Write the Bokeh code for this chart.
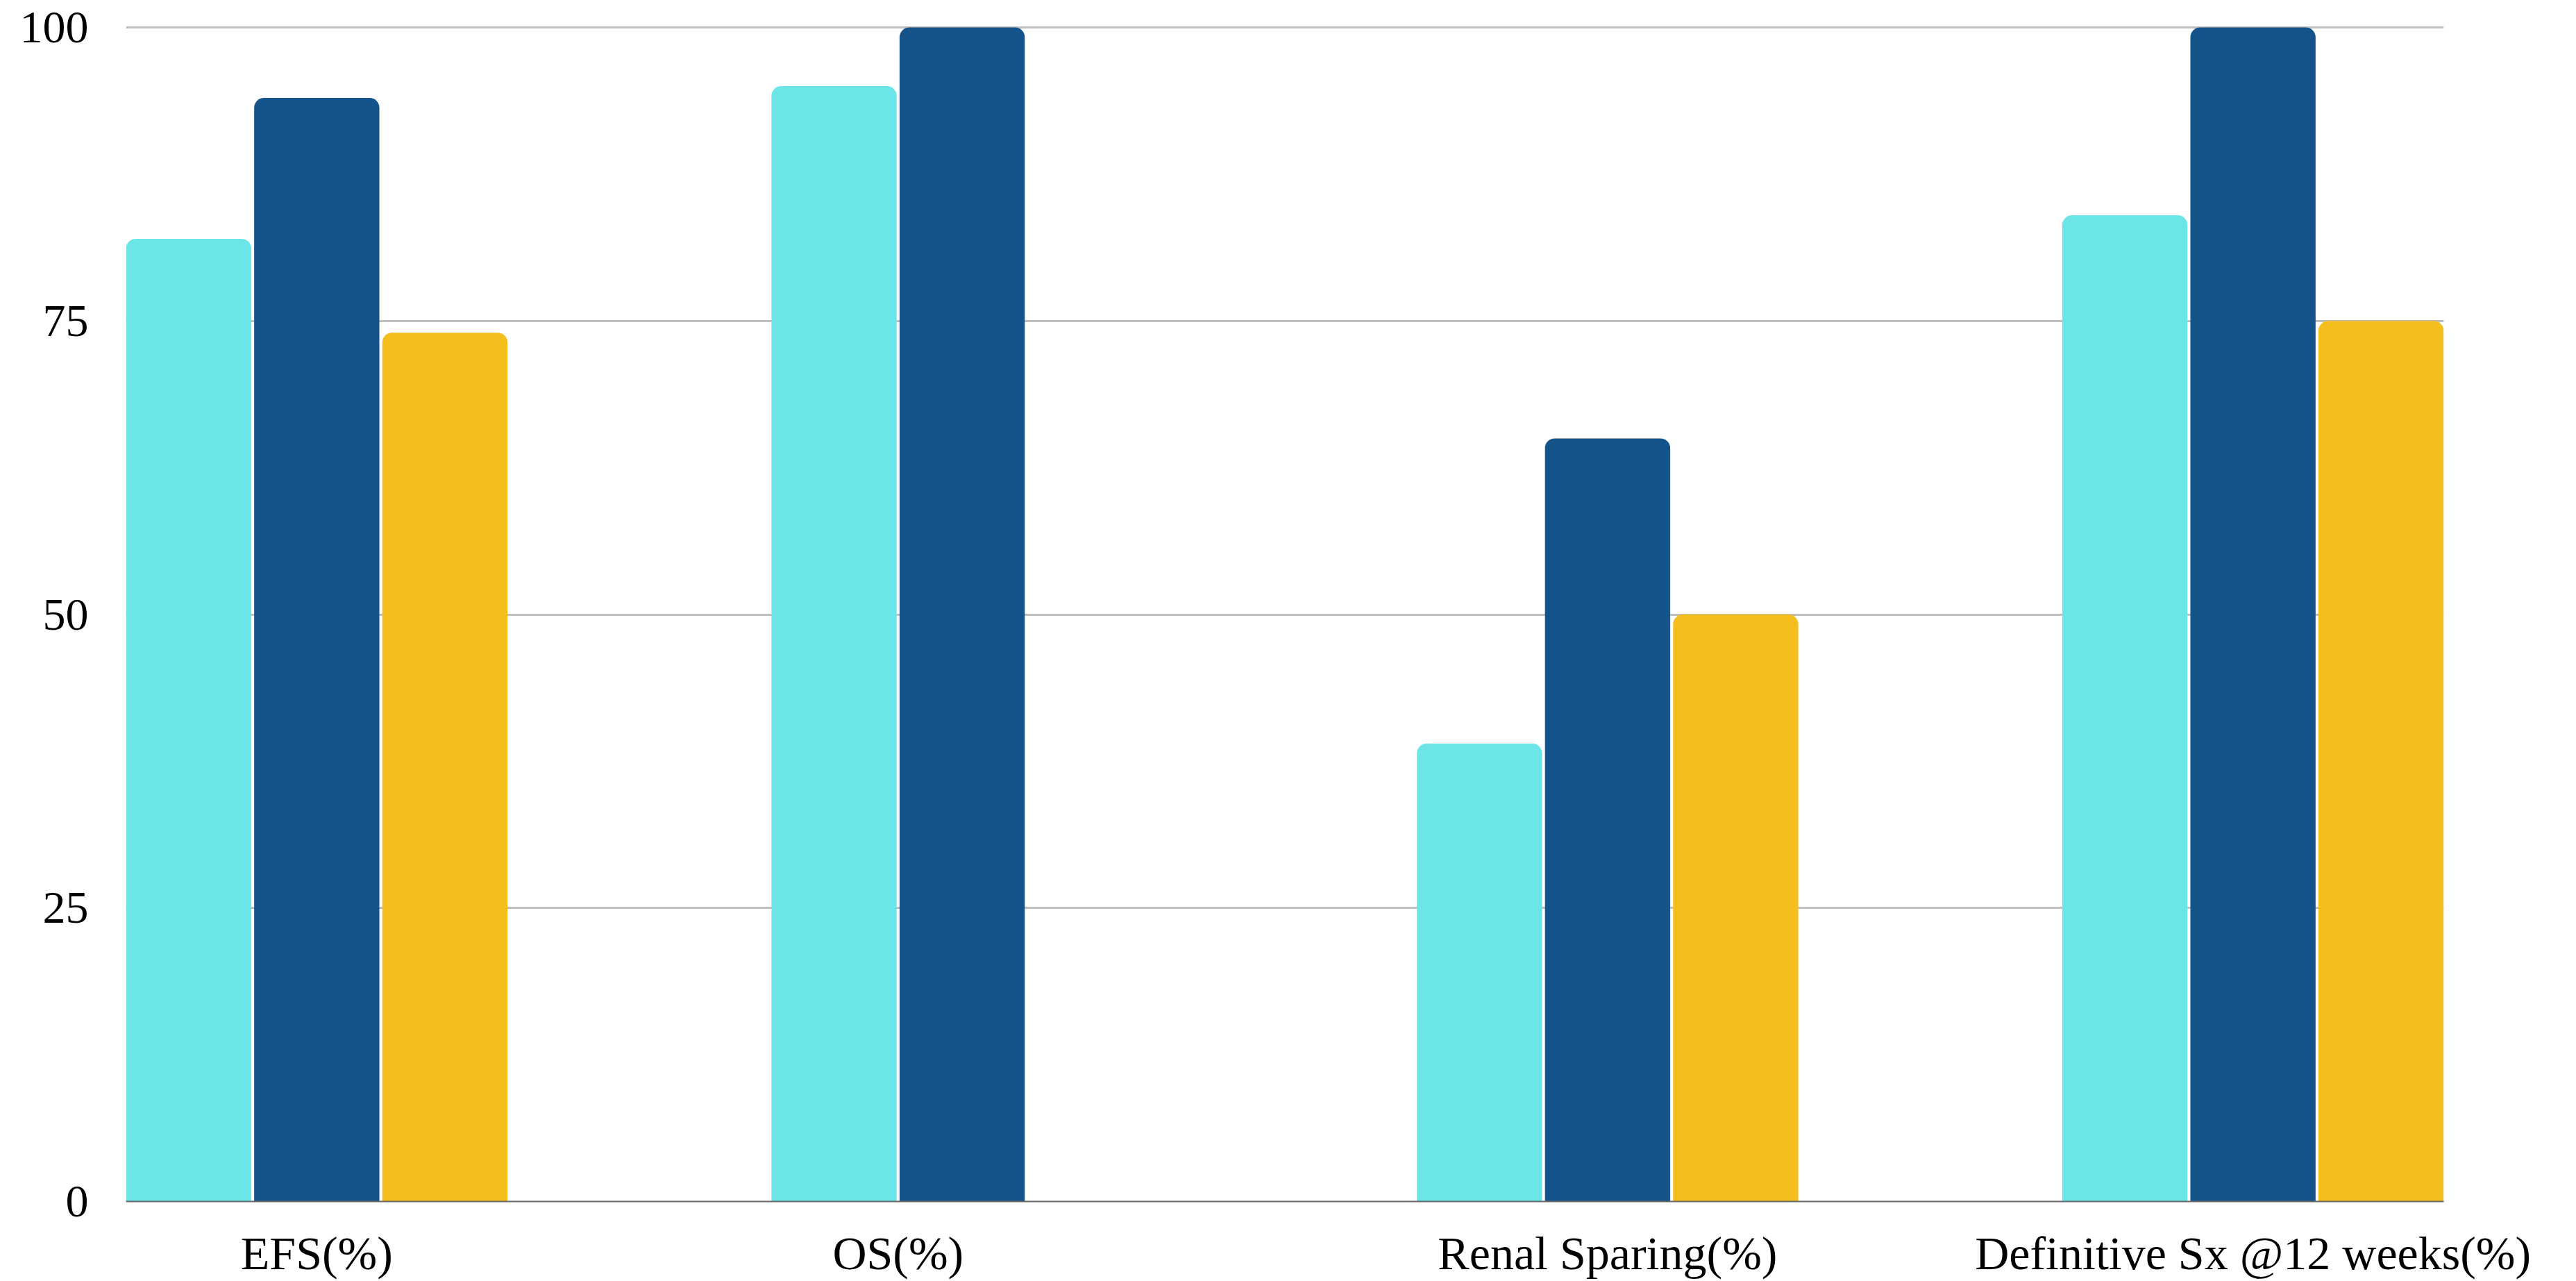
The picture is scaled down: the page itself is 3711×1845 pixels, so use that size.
from bokeh.plotting import figure
from bokeh.models import ColumnDataSource, FixedTicker, CustomJSTickFormatter, Range1d
from bokeh.transform import dodge
from bokeh.embed import file_html
from bokeh.resources import INLINE

categories = ["EFS(%)", "OS(%)", "Renal Sparing(%)", "Definitive Sx @12 weeks(%)"]
series_a = [82, 95, 39, 84]      # cyan
series_b = [94, 100, 65, 100]    # navy
series_c = [74, None, 50, 75]    # yellow
y_ticks = [0, 25, 50, 75, 100]

colors = ["#6CE5E8", "#15548A", "#F4BE1D"]
step = 0.1985
bar_w = 0.194
offsets = [-step, 0.0, step]
half_group = step + bar_w / 2 + 0.0001

xs = list(range(len(categories)))
src = ColumnDataSource(dict(
    x=xs,
    a=[v if v is not None else float("nan") for v in series_a],
    b=[v if v is not None else float("nan") for v in series_b],
    c=[v if v is not None else float("nan") for v in series_c],
))

p = figure(width=3711, height=1845, output_backend="svg", toolbar_location=None,
           x_range=Range1d(-half_group, len(categories) - 1 + half_group),
           y_range=Range1d(0, 100.3),
           min_border_left=181, min_border_right=191, min_border_top=34, min_border_bottom=111)

p.outline_line_color = None
p.background_fill_color = "white"
p.border_fill_color = "white"

p.ygrid.ticker = FixedTicker(ticks=y_ticks[1:])
p.ygrid.grid_line_color = "#BFBFBF"
p.ygrid.grid_line_width = 3
p.xgrid.grid_line_color = None

for col, off, color in zip(["a", "b", "c"], offsets, colors):
    p.vbar(x=dodge("x", off), top=col, bottom=0, width=bar_w, source=src,
           fill_color=color, line_color=None, border_radius=(14, 14, 0, 0))

# label positions: centre of bars actually present in each category
label_pos = []
for i in range(len(categories)):
    present = [off for off, ser in zip(offsets, [series_a, series_b, series_c]) if ser[i] is not None]
    label_pos.append(i + sum(present) / len(present))

p.xaxis.ticker = FixedTicker(ticks=label_pos)
p.xaxis.formatter = CustomJSTickFormatter(args=dict(pos=label_pos, labels=categories), code="""
    let best = 0, bd = 1e9;
    for (let i = 0; i < pos.length; i++) {
        const d = Math.abs(pos[i] - tick);
        if (d < bd) { bd = d; best = i; }
    }
    return labels[best];
""")
p.xaxis.axis_line_color = "#666666"
p.xaxis.axis_line_width = 2
p.xaxis.major_tick_line_color = None
p.xaxis.minor_tick_line_color = None
p.xaxis.major_label_text_font = "Liberation Serif"
p.xaxis.major_label_text_font_size = "68px"
p.xaxis.major_label_text_color = "black"
p.xaxis.major_label_standoff = 30

p.yaxis.ticker = FixedTicker(ticks=y_ticks)
p.yaxis.axis_line_color = None
p.yaxis.major_tick_line_color = None
p.yaxis.minor_tick_line_color = None
p.yaxis.major_label_text_font = "Liberation Serif"
p.yaxis.major_label_text_font_size = "66px"
p.yaxis.major_label_text_color = "black"
p.yaxis.major_label_standoff = 48

open("out.html", "w").write(file_html(p, INLINE))
